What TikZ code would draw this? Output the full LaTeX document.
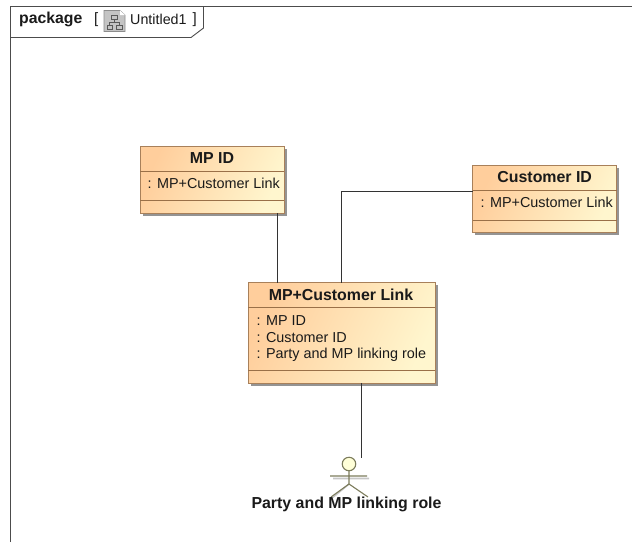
\documentclass[tikz,border=0pt]{standalone}
\usepackage{fontspec}
\setmainfont{Liberation Sans}
\usetikzlibrary{shadows,calc}
\definecolor{boxline}{HTML}{A8805A}
\definecolor{sepline}{HTML}{9A7048}
\definecolor{warmA}{HTML}{FFCE9C}
\definecolor{warmB}{HTML}{FFF6CE}
\definecolor{actorline}{HTML}{7C7C5C}
\definecolor{headfill}{HTML}{FFFFD8}
\definecolor{txt}{HTML}{1A1A1A}
\definecolor{iconfill}{HTML}{C4C4C4}
\tikzset{
  x=1pt,y=-1pt,
  classbox/.style={draw=boxline,line width=1pt,inner sep=0pt,outer sep=0pt,
    left color=warmA,right color=warmB,shading angle=65,
    copy shadow={draw=none,fill=black!42,shadow xshift=2.5pt,shadow yshift=-2.5pt}},
  sep/.style={draw=sepline,line width=0.9pt},
  conn/.style={draw=black!80,line width=0.9pt},
  titletext/.style={font=\fontsize{15.9}{18}\selectfont\bfseries,text=txt,inner sep=0pt},
  attrtext/.style={font=\fontsize{14.4}{16.5}\selectfont,text=txt,inner sep=0pt,align=left,anchor=west},
  framel/.style={draw=black!70,line width=0.9pt},
  stick/.style={draw=actorline,line width=1.1pt},
  sticksh/.style={draw=black!22,line width=1.6pt}
}
\begin{document}
\begin{tikzpicture}
\useasboundingbox (0,0) rectangle (632,542);
% frame
\draw[framel] (10.5,542) -- (10.5,6.5) -- (632,6.5);
\draw[framel] (10.5,37.5) -- (191,37.5) -- (203.5,28) -- (203.5,6.5);
\node[anchor=west,inner sep=0pt,font=\fontsize{15.8}{18}\selectfont\bfseries,text=txt] (pkg) at (19,19.5) {package};
\node[anchor=west,inner sep=0pt,font=\fontsize{15}{18}\selectfont,text=txt] (lb) at (94,19.5) {[};
\node[anchor=west,inner sep=0pt,font=\fontsize{14.3}{18}\selectfont,text=txt] (unt) at (130,19) {Untitled1};
\node[anchor=west,inner sep=0pt,font=\fontsize{15}{18}\selectfont,text=txt] (rb) at (192.5,19.5) {]};
% icon
\fill[iconfill,draw=black!45,line width=.6pt] (104,10.5) -- (120,10.5) -- (125,15) -- (125,31.5) -- (104,31.5) -- cycle;
\fill[white] (120,10.5) -- (125,15) -- (120,15) -- cycle;
\draw[black!65,line width=.7pt] (111.5,15) rectangle (117,19.5) (107,25) rectangle (112.5,29) (116.5,25) rectangle (122,29)
  (114.2,19.5) -- (114.2,22.5) (109.7,25) -- (109.7,22.5) -- (119.2,22.5) -- (119.2,25);
% classes
\node[classbox,minimum width=144pt,minimum height=67pt] (mp) at (212,179.5) {};
\node[classbox,minimum width=144pt,minimum height=67pt] (cust) at (544.7,198.5) {};
\node[classbox,minimum width=187pt,minimum height=100.5pt] (link) at (341.5,333) {};
\draw[sep] (140,171) -- (284,171) (140,200.5) -- (284,200.5);
\draw[sep] (472.7,190) -- (616.7,190) (472.7,220) -- (616.7,220);
\draw[sep] (248,307.5) -- (435,307.5) (248,370.5) -- (435,370.5);
\node[titletext] (mpt) at (212,158.5) {MP ID};
\node[titletext] (custt) at (544.7,177.5) {Customer ID};
\node[titletext] (linkt) at (341,295) {MP+Customer Link};
\node[attrtext] (mpa) at (147.5,183.5) {: MP+Customer Link};
\node[attrtext] (custa) at (480.5,202.5) {: MP+Customer Link};
\node[attrtext] (linka) at (256.5,339) {: MP ID\\: Customer ID\\: Party and MP linking role};
% connectors
\coordinate (mpx) at (277.5,0);
\coordinate (actend) at (361.5,458);
\draw[conn] (mpx |- mp.south) -- (mpx |- link.north);
\draw[conn] (cust.west |- 0,191) -- (341.5,191) -- (341.5,0 |- link.north);
\draw[conn] (actend |- link.south) -- (actend);
% actor
\draw[sticksh] (333,478.5) -- (369,478.5) (349,484) -- (332,498) ;
\draw[stick] (330,476) -- (367,476) (349,471) -- (349,484) (331,497) -- (349,484) -- (368,497);
\node[circle,draw=actorline,line width=1.1pt,fill=headfill,minimum size=13.5pt,inner sep=0pt] (head) at (349,464) {};
\node[inner sep=0pt,font=\fontsize{15.9}{18}\selectfont\bfseries,text=txt] (actl) at (346.5,504.5) {Party and MP linking role};
\end{tikzpicture}
\end{document}
